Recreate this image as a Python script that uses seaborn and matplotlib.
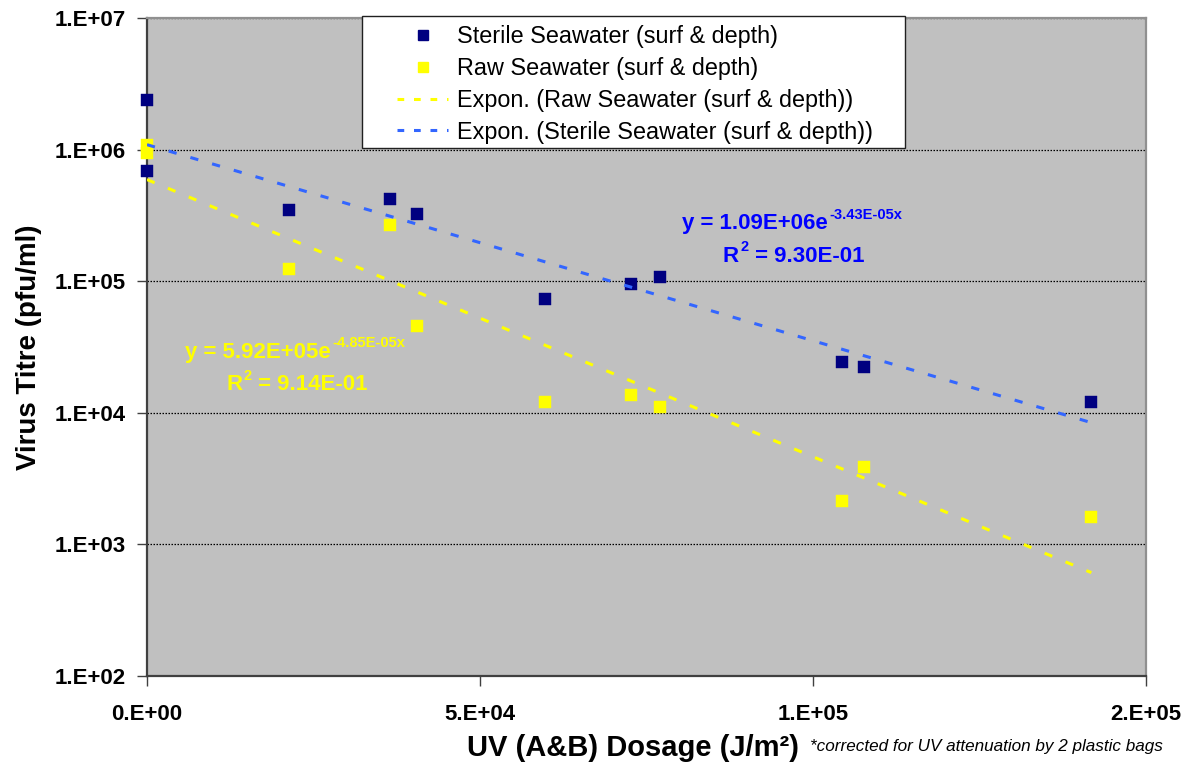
import numpy as np
import pandas as pd
import matplotlib
matplotlib.use("Agg")
import matplotlib.pyplot as plt
from matplotlib.lines import Line2D
from matplotlib.patches import Rectangle
from matplotlib.ticker import FixedLocator, NullLocator
import seaborn as sns

# ---------------- data ----------------
dose = [0, 0, 21300, 36500, 40600, 59800, 72600, 77100, 104400, 107700, 141800]
sterile = [2.40e6, 6.9e5, 3.47e5, 4.19e5, 3.22e5, 7.3e4, 9.5e4, 1.07e5, 2.42e4, 2.22e4, 1.20e4]
raw = [1.09e6, 9.5e5, 1.24e5, 2.67e5, 4.57e4, 1.21e4, 1.36e4, 1.11e4, 2.13e3, 3.87e3, 1.61e3]

# exponential trendline coefficients shown on the chart: y = a * exp(b * x)
sterile_fit = (1.09e6, -3.43e-05)
raw_fit = (5.92e5, -4.85e-05)

x_ticks = [0, 5e4, 1e5, 1.5e5]
x_ticklabels = ["0.E+00", "5.E+04", "1.E+05", "2.E+05"]
y_ticks = [1e2, 1e3, 1e4, 1e5, 1e6, 1e7]
y_ticklabels = ["1.E+02", "1.E+03", "1.E+04", "1.E+05", "1.E+06", "1.E+07"]

series_labels = ["Sterile Seawater (surf & depth)", "Raw Seawater (surf & depth)",
                 "Expon. (Raw Seawater (surf & depth))", "Expon. (Sterile Seawater (surf & depth))"]

# ---------------- style ----------------
sns.set_style("white")
plt.rcParams["font.family"] = ["Liberation Sans", "DejaVu Sans"]
for k in ["text.color", "axes.labelcolor", "xtick.color", "ytick.color"]:
    plt.rcParams[k] = "black"

W, H = 1196, 766
fig = plt.figure(figsize=(W / 100, H / 100), dpi=100)
ax = fig.add_axes([147 / W, 1 - 676 / H, (1146 - 147) / W, (676 - 18) / H])
ax.set_facecolor("#C0C0C0")

NAVY = "#000080"
YEL = "#FFFF00"
TBLUE = "#3366FF"

df = pd.DataFrame({"dose": dose, "sterile": sterile, "raw": raw})

x_fit = np.linspace(0, max(dose), 300)
fit_df = pd.DataFrame({
    "x": x_fit,
    "sterile": sterile_fit[0] * np.exp(sterile_fit[1] * x_fit),
    "raw": raw_fit[0] * np.exp(raw_fit[1] * x_fit),
})

ax.set_yscale("log")
ax.set_xlim(0, 1.5e5)
ax.set_ylim(1e2, 1e7)

ax.grid(False)
for yv in y_ticks:
    ax.axhline(yv, color="black", lw=0.9, ls=(0, (1.2, 1.2)), zorder=1)

sns.scatterplot(data=df, x="dose", y="sterile", marker="s", s=68, color=NAVY,
                edgecolor=NAVY, linewidth=0.3, ax=ax, zorder=3, clip_on=False)
sns.scatterplot(data=df, x="dose", y="raw", marker="s", s=68, color=YEL,
                edgecolor=YEL, linewidth=0.3, ax=ax, zorder=3, clip_on=False)

dash = (0, (2.7, 4.7))
sns.lineplot(data=fit_df, x="x", y="raw", color=YEL, lw=2.2, linestyle=dash, ax=ax, zorder=4)
sns.lineplot(data=fit_df, x="x", y="sterile", color=TBLUE, lw=2.2, linestyle=dash, ax=ax, zorder=4)

ax.set_xlabel("")
ax.set_ylabel("")

ax.xaxis.set_major_locator(FixedLocator(x_ticks))
ax.set_xticklabels(x_ticklabels, fontsize=16, fontweight="bold")
ax.yaxis.set_major_locator(FixedLocator(y_ticks))
ax.yaxis.set_minor_locator(NullLocator())
ax.set_yticklabels(y_ticklabels, fontsize=16, fontweight="bold")
ax.tick_params(axis="y", length=7, width=1, color="#404040", pad=8, left=True, direction="out")
ax.tick_params(axis="x", length=7, width=1, color="#404040", pad=13, bottom=True, direction="out")

for side in ["left", "bottom"]:
    ax.spines[side].set_color("#404040")
    ax.spines[side].set_linewidth(1.6)
for side in ["top", "right"]:
    ax.spines[side].set_color("#909090")
    ax.spines[side].set_linewidth(1.6)


def fpos(px, py):
    return px / W, 1 - py / H


# ---------------- legend ----------------
box = Rectangle(fpos(362, 148), (905 - 362) / W, (148 - 16) / H, transform=fig.transFigure,
                facecolor="white", edgecolor="#202020", lw=1.0, zorder=9)
fig.add_artist(box)

handles = [
    Line2D([], [], ls="none", marker="s", ms=7.8, color=NAVY),
    Line2D([], [], ls="none", marker="s", ms=7.8, color=YEL),
    Line2D([], [], color=YEL, lw=2.2, ls=(0, (2.2, 3.2))),
    Line2D([], [], color=TBLUE, lw=2.2, ls=(0, (2.2, 3.2))),
]
leg = fig.legend(handles, series_labels, loc="upper left",
                 bbox_to_anchor=fpos(397, 25), bbox_transform=fig.transFigure,
                 fontsize=16.8, frameon=False, borderpad=0,
                 labelspacing=0.38, handlelength=2.2, handletextpad=0.38,
                 borderaxespad=0)
leg.set_zorder(10)


# ---------------- equations ----------------
def equation(px, py, main, sup, color):
    t1 = fig.text(*fpos(px, py), main, ha="left", va="center", fontsize=16,
                  fontweight="bold", color=color)
    ax.annotate(sup, xy=(1, 0.5), xycoords=t1, xytext=(1, 6.5), textcoords="offset points",
                ha="left", va="center", fontsize=10.5, fontweight="bold", color=color)


def rsq(px, py, value, color):
    tR = fig.text(*fpos(px, py), "R", ha="left", va="center", fontsize=16,
                  fontweight="bold", color=color)
    t2 = ax.annotate("2", xy=(1, 0.5), xycoords=tR, xytext=(1, 6.5), textcoords="offset points",
                     ha="left", va="center", fontsize=10.5, fontweight="bold", color=color)
    ax.annotate(" = " + value, xy=(1, 0.5), xycoords=(t2, tR), xytext=(0, 0),
                textcoords="offset points", ha="left", va="center", fontsize=16,
                fontweight="bold", color=color)


equation(682, 224, "y = 1.09E+06e", "-3.43E-05x", "#0000FF")
rsq(723, 256, "9.30E-01", "#0000FF")
equation(185, 352, "y = 5.92E+05e", "-4.85E-05x", YEL)
rsq(226, 385, "9.14E-01", YEL)

# ---------------- axis titles ----------------
fig.text(*fpos(29, 347), "Virus Titre (pfu/ml)", rotation=90, ha="center", va="center",
         fontsize=20, fontweight="bold")
fig.text(*fpos(467, 748), "UV (A&B) Dosage (J/m²)", ha="left", va="center",
         fontsize=21, fontweight="bold")
fig.text(*fpos(810, 746), "*corrected for UV attenuation by 2 plastic bags", ha="left",
         va="center", fontsize=12.3, fontstyle="italic")

fig.savefig("out.png", dpi=100)
